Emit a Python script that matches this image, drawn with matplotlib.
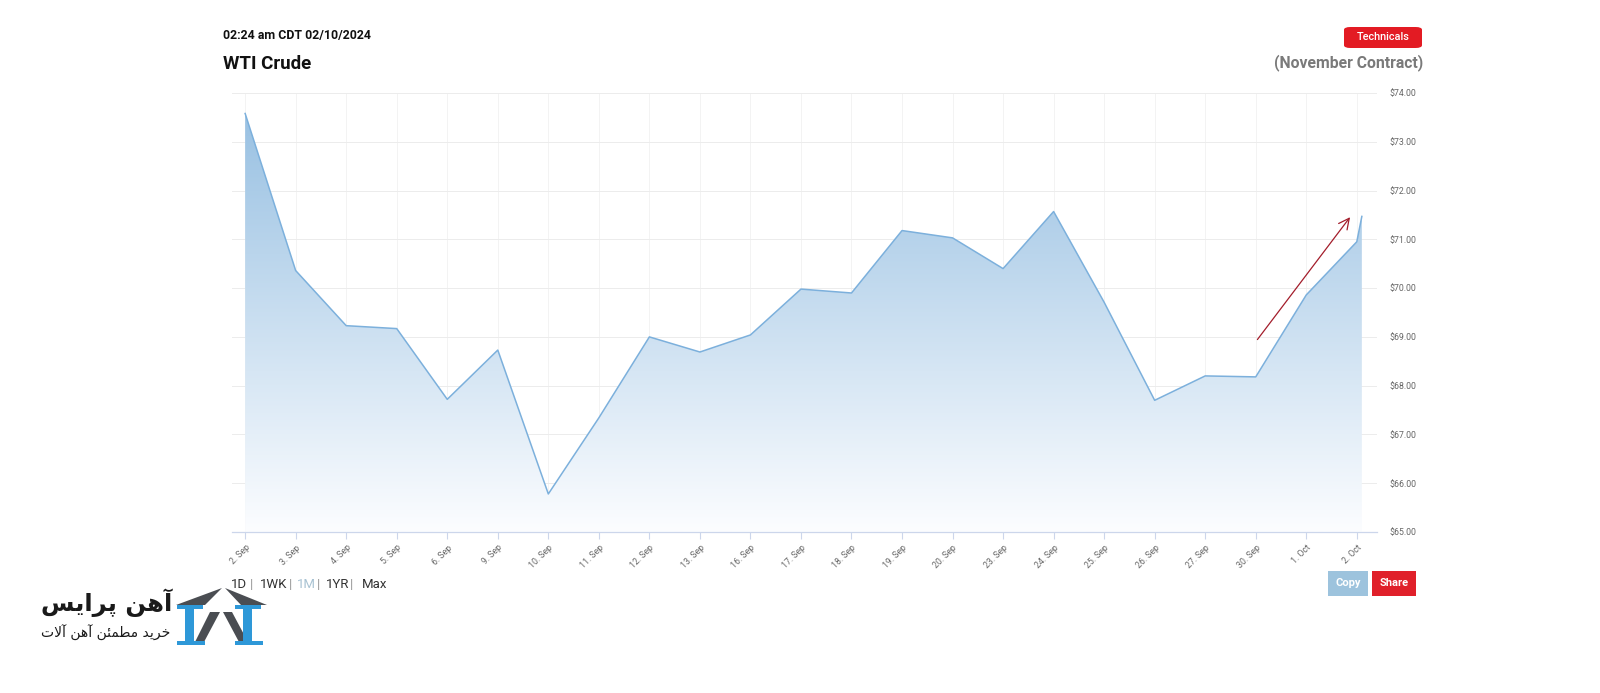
import matplotlib
matplotlib.use("Agg")
import matplotlib.pyplot as plt
from matplotlib.patches import FancyBboxPatch, Polygon
import numpy as np

# --- data -------------------------------------------------------------
dates = ["2. Sep", "3. Sep", "4. Sep", "5. Sep", "6. Sep", "9. Sep", "10. Sep",
         "11. Sep", "12. Sep", "13. Sep", "16. Sep", "17. Sep", "18. Sep",
         "19. Sep", "20. Sep", "23. Sep", "24. Sep", "25. Sep", "26. Sep",
         "27. Sep", "30. Sep", "1. Oct", "2. Oct"]
close_prices = [73.58, 70.36, 69.23, 69.17, 67.72, 68.73, 65.78, 67.34,
                69.00, 68.69, 69.04, 69.98, 69.90, 71.18, 71.03, 70.40,
                71.57, 69.71, 67.70, 68.20, 68.18, 69.86, 70.95]
latest_price = 71.47          # intraday tick after the 2 Oct close
latest_offset = 0.1           # fraction of a session after the last close
y_ticks = [65, 66, 67, 68, 69, 70, 71, 72, 73, 74]
ranges = ["1D", "1WK", "1M", "1YR", "Max"]
arrow_from = (20.0, 68.90)
arrow_to = (21.9, 71.50)

W, H = 1600, 693
LINE = "#7cb0dc"
AXIS = "#ccd6eb"
LABEL = "#666666"


def px(x, y):
    """pixel position (origin top-left) -> figure fraction"""
    return x / W, 1 - y / H


fig = plt.figure(figsize=(W / 100, H / 100), dpi=100)
plt.rcParams["font.family"] = ["Roboto", "DejaVu Sans"]

left, top = px(232, 93)
right, bottom = px(1377, 532)
ax = fig.add_axes([left, bottom, right - left, top - bottom])

x = list(range(len(close_prices))) + [len(close_prices) - 1 + latest_offset]
y = close_prices + [latest_price]
xlim = (-0.26, len(close_prices) - 1 + 0.4)
ylim = (y_ticks[0], y_ticks[-1])

# gradient area fill clipped to the series
g = np.linspace(0, 1, 256)[:, None, None]
c_top = np.array([148, 190, 225]) / 255
c_bot = np.array([252, 253, 255]) / 255
img = c_top * (1 - g) + c_bot * g
im = ax.imshow(img, extent=[xlim[0], xlim[1], ylim[0], ylim[1]],
               aspect="auto", origin="upper", zorder=1)
poly = ax.fill_between(x, y, ylim[0], color="none", lw=0)
im.set_clip_path(poly.get_paths()[0], transform=ax.transData)
ax.plot(x, y, color=LINE, lw=1.1, zorder=3)

ax.set_xlim(*xlim)
ax.set_ylim(*ylim)

ax.set_xticks(range(len(dates)))
ax.set_xticklabels(dates, rotation=45, ha="right", rotation_mode="anchor",
                   fontsize=6.3, color=LABEL)
ax.set_yticks(y_ticks)
ax.set_yticklabels([f"${v:.2f}" for v in y_ticks], fontsize=6.3, color=LABEL)
ax.yaxis.tick_right()
ax.tick_params(axis="y", length=0, pad=9)
ax.tick_params(axis="x", length=5, color=AXIS, width=0.8, pad=3)
ax.grid(axis="y", color="#ececec", lw=0.7)
ax.grid(axis="x", color="#f3f3f3", lw=0.7)
ax.set_axisbelow(True)
for s in ["top", "left", "right"]:
    ax.spines[s].set_visible(False)
ax.spines["bottom"].set_color(AXIS)
ax.spines["bottom"].set_linewidth(0.9)

ax.annotate("", xy=arrow_to, xytext=arrow_from,
            arrowprops=dict(arrowstyle="->", color="#a31d2b", lw=0.9,
                            mutation_scale=19), zorder=5)

# --- header -----------------------------------------------------------
fig.text(*px(223, 36), "02:24 am CDT 02/10/2024", fontsize=8.9,
         fontweight="bold", color="#111111", va="center", ha="left")
fig.text(*px(223, 64), "WTI Crude", fontsize=13.5, fontweight="bold",
         color="#111111", va="center", ha="left")
fig.text(*px(1423, 63), "(November Contract)", fontsize=11.3,
         fontweight="bold", color="#7a7a7a", va="center", ha="right")

def button(x0, y0, x1, y1, color, label, size=8, weight="normal", rounded=True):
    fx0, fy1 = px(x0, y0)
    fx1, fy0 = px(x1, y1)
    style = "round,pad=0,rounding_size=0.004" if rounded else "square,pad=0"
    fig.patches.append(FancyBboxPatch((fx0, fy0), fx1 - fx0, fy1 - fy0,
                                      boxstyle=style, transform=fig.transFigure,
                                      fc=color, ec="none"))
    fig.text((fx0 + fx1) / 2, (fy0 + fy1) / 2, label, fontsize=size,
             fontweight=weight, color="white", ha="center", va="center")

button(1344, 27, 1422, 48, "#e31b23", "Technicals", size=7.8, weight="medium")
button(1328, 571, 1368, 596, "#9dc3dd", "Copy", size=8, weight="bold", rounded=False)
button(1372, 571, 1416, 596, "#e0202a", "Share", size=8, weight="bold", rounded=False)

# --- range selector -------------------------------------------------------
nav_x = [231, 260, 297, 326, 362]
sep_x = [250, 289, 317, 350]
for lbl, xp in zip(ranges, nav_x):
    col = "#a9c3d3" if lbl == "1M" else "#333333"
    fig.text(*px(xp, 585), lbl, fontsize=9.5, color=col, ha="left", va="center")
for xp in sep_x:
    fig.text(*px(xp, 585), "|", fontsize=9.5, color="#9a9a9a", ha="left", va="center")

# --- watermark logo -------------------------------------------------------
def shape(points, color):
    fig.patches.append(Polygon([px(a, b) for a, b in points], closed=True,
                               transform=fig.transFigure, fc=color, ec="none"))

gray, blue = "#4a4d52", "#2e98d8"
shape([(176, 605), (222, 588), (205, 605)], gray)
shape([(225, 588), (267, 605), (241, 605)], gray)
shape([(210, 612), (220, 612), (204, 642), (195, 642)], gray)
shape([(223, 612), (232, 612), (248, 642), (239, 642)], gray)
for bx in (177, 235):
    shape([(bx, 605), (bx + 26, 605), (bx + 26, 609), (bx + 17, 609),
           (bx + 17, 641), (bx + 28, 641), (bx + 28, 645), (bx, 645),
           (bx, 641), (bx + 8, 641), (bx + 8, 609), (bx, 609)], blue)

brand = "\ufe81\ufeeb\ufee6 \ufb58\ufeae\ufe8d\ufbfe\ufeb2"
slogan = ("\ufea7\ufeae\ufbfe\ufeaa \ufee3\ufec4\ufee4\ufe8c\ufee6 "
          "\ufe81\ufeeb\ufee6 \ufe81\ufefb\ufe95")
fig.text(*px(172, 603), brand[::-1], fontsize=17.5, fontweight="bold",
         color="#1a1a1a", ha="right", va="center", family="DejaVu Sans")
fig.text(*px(170, 633), slogan[::-1], fontsize=10, color="#1a1a1a",
         ha="right", va="center", family="DejaVu Sans")

fig.savefig("out.png", dpi=100, facecolor="white")
